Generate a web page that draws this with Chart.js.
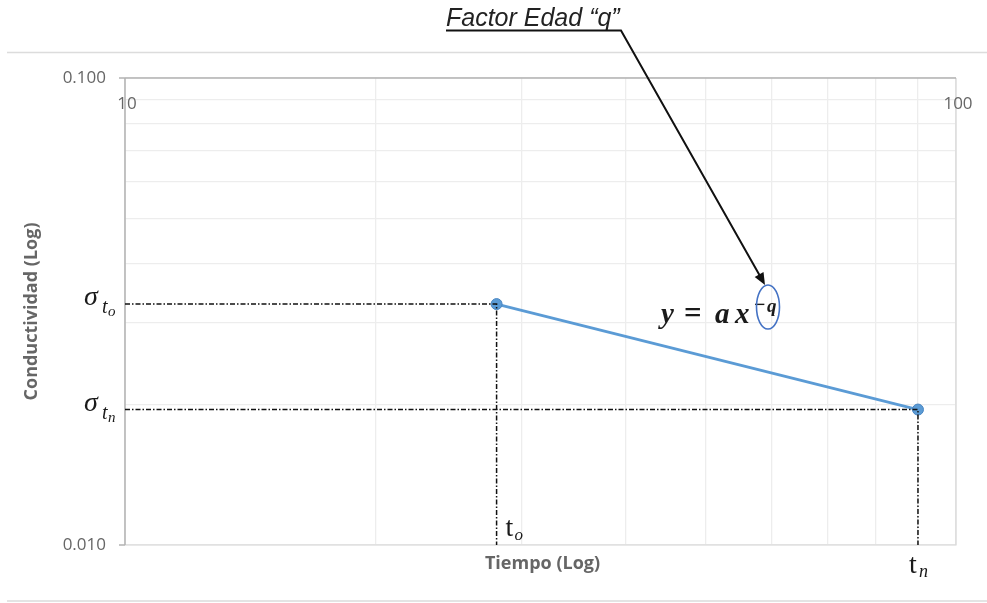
<!DOCTYPE html>
<html>
<head>
<meta charset="utf-8">
<script src="https://cdn.jsdelivr.net/npm/chart.js@4"></script>
<style>
  html, body { margin: 0; padding: 0; background: #fff; }
  #wrap { width: 987px; height: 603px; }
</style>
</head>
<body>
<div id="wrap"><canvas id="chart" width="987" height="603"></canvas></div>
<script>
// datos
const tiempo = [28, 90];
const conductividad = [0.0328, 0.0195];
const xTicks = [10, 100];
const xTickLabels = ['10', '100'];
const yTicks = [0.1, 0.01];
const yTickLabels = ['0.100', '0.010'];
// lineas de division (escala log, como en Excel)
const xGrid = [10, 20, 30, 40, 50, 60, 70, 80, 90, 100];
const yGrid = [0.01, 0.02, 0.03, 0.04, 0.05, 0.06, 0.07, 0.08, 0.09, 0.1];
const xTitle = 'Tiempo (Log)';
const yTitle = 'Conductividad (Log)';

const puntos = tiempo.map((t, i) => ({ x: t, y: conductividad[i] }));

// lineas guia punto-raya hacia los ejes
const guia = (t, c) => [{ x: xTicks[0], y: c }, { x: t, y: c }, { x: t, y: yTicks[1] }];

const guideStyle = {
    borderColor: '#111',
    borderWidth: 1.5,
    borderDash: [5, 2, 1.5, 2],
    pointRadius: 0,
    showLine: true,
    fill: false
};

function texto(ctx, s, x, y, font, color, align, base) {
    ctx.font = font;
    ctx.fillStyle = color;
    ctx.textAlign = align || 'left';
    ctx.textBaseline = base || 'alphabetic';
    ctx.fillText(s, x, y);
}

const decoraciones = {
    id: 'decoraciones',
    beforeDatasetsDraw(chart) {
        const { ctx, chartArea: a } = chart;
        ctx.save();
        // lineas del marco exterior
        ctx.strokeStyle = '#dcdcdc';
        ctx.lineWidth = 1.5;
        ctx.beginPath();
        ctx.moveTo(7, 52.5); ctx.lineTo(987, 52.5);
        ctx.moveTo(7, 601); ctx.lineTo(987, 601);
        ctx.stroke();
        // borde del area de trazado
        ctx.strokeStyle = '#d6d6d6';
        ctx.lineWidth = 1.2;
        ctx.beginPath();
        ctx.moveTo(a.right, a.top); ctx.lineTo(a.right, a.bottom); ctx.lineTo(a.left, a.bottom);
        ctx.stroke();
        ctx.strokeStyle = '#b3b3b3';
        ctx.lineWidth = 1.5;
        ctx.beginPath();
        ctx.moveTo(a.left - 6, a.bottom); ctx.lineTo(a.left, a.bottom);
        ctx.moveTo(a.left, a.bottom); ctx.lineTo(a.left, a.top); ctx.lineTo(a.right, a.top);
        ctx.moveTo(a.left - 6, a.top); ctx.lineTo(a.left, a.top);
        ctx.stroke();
        ctx.restore();
    },
    afterDraw(chart) {
        const { ctx, chartArea: a } = chart;
        const xs = chart.scales.x, ys = chart.scales.y;
        const gris = '#666';
        const sans = '"Open Sans", "Liberation Sans", sans-serif';
        const tickFont = '17px ' + sans;
        ctx.save();

        xTicks.forEach((v, i) => texto(ctx, xTickLabels[i], xs.getPixelForValue(v) + 2, a.top + 26, tickFont, gris, 'center', 'middle'));
        yTicks.forEach((v, i) => texto(ctx, yTickLabels[i], a.left - 19, ys.getPixelForValue(v), tickFont, gris, 'right', 'middle'));

        texto(ctx, xTitle, (a.left + a.right) / 2 + 2, a.bottom + 19, 'bold 18px ' + sans, gris, 'center', 'middle');
        ctx.save();
        ctx.translate(32, (a.top + a.bottom) / 2);
        ctx.rotate(-Math.PI / 2);
        texto(ctx, yTitle, 0, 0, 'bold 18px ' + sans, gris, 'center', 'middle');
        ctx.restore();

        // etiquetas sigma en el eje y
        const serif = '"Liberation Serif", "DejaVu Serif", serif';
        const negro = '#1a1a1a';
        ['o', 'n'].forEach((sub, i) => {
            const py = ys.getPixelForValue(conductividad[i]);
            texto(ctx, 'σ', 84, py + 1, 'italic 28px ' + serif, negro);
            texto(ctx, 't', 102, py + 9, 'italic 20px ' + serif, negro);
            texto(ctx, sub, 108, py + 12, 'italic 15px ' + serif, negro);
        });

        // etiquetas de tiempo
        const p0 = xs.getPixelForValue(tiempo[0]);
        texto(ctx, 't', p0 + 9, a.bottom - 9, '28px ' + serif, negro);
        texto(ctx, 'o', p0 + 18, a.bottom - 5, 'italic 17px ' + serif, negro);
        const p1 = xs.getPixelForValue(tiempo[1]);
        texto(ctx, 't', p1 - 9, a.bottom + 28, '28px ' + serif, negro);
        texto(ctx, 'n', p1 + 1, a.bottom + 32, 'italic 18px ' + serif, negro);

        // ecuacion
        const eq = 'bold italic 29px ' + serif;
        texto(ctx, 'y', 661, 323, eq, negro);
        texto(ctx, '=', 684, 323, 'bold 31px ' + serif, negro);
        texto(ctx, 'a', 715, 323, eq, negro);
        texto(ctx, 'x', 735, 323, eq, negro);
        texto(ctx, '−', 754, 311, 'bold 20px ' + serif, negro);
        texto(ctx, 'q', 767, 312, 'bold italic 19px ' + serif, negro);
        ctx.strokeStyle = '#4472c4';
        ctx.lineWidth = 1.6;
        ctx.beginPath();
        ctx.ellipse(768, 307, 11.5, 22, 0, 0, Math.PI * 2);
        ctx.stroke();

        // titulo y flecha
        texto(ctx, 'Factor Edad “q”', 446, 26, 'italic 25px "Liberation Sans", Arial, sans-serif', '#222');
        ctx.strokeStyle = '#111';
        ctx.lineWidth = 2;
        ctx.beginPath();
        ctx.moveTo(446, 30.5); ctx.lineTo(621, 30.5);
        ctx.lineTo(760, 276);
        ctx.stroke();
        const ang = Math.atan2(276 - 30.5, 760 - 621);
        const tx = 765, ty = 285;
        ctx.fillStyle = '#111';
        ctx.beginPath();
        ctx.moveTo(tx, ty);
        ctx.lineTo(tx - 13 * Math.cos(ang - 0.4), ty - 13 * Math.sin(ang - 0.4));
        ctx.lineTo(tx - 13 * Math.cos(ang + 0.4), ty - 13 * Math.sin(ang + 0.4));
        ctx.closePath();
        ctx.fill();

        ctx.restore();
    }
};

new Chart(document.getElementById('chart'), {
    type: 'scatter',
    data: {
        datasets: [
            Object.assign({ data: guia(tiempo[0], conductividad[0]) }, guideStyle),
            Object.assign({ data: guia(tiempo[1], conductividad[1]) }, guideStyle),
            {
                data: puntos,
                showLine: true,
                borderColor: '#5b9bd5',
                borderWidth: 2.8,
                pointRadius: 5.5,
                pointBackgroundColor: '#5b9bd5',
                pointBorderColor: '#4a86c2',
                pointBorderWidth: 1
            }
        ]
    },
    options: {
        responsive: false,
        animation: false,
        events: [],
        layout: { padding: { left: 125, top: 78, right: 31, bottom: 58 } },
        plugins: { legend: { display: false }, tooltip: { enabled: false } },
        scales: {
            x: {
                type: 'logarithmic',
                min: xTicks[0],
                max: xTicks[1],
                afterBuildTicks: s => { s.ticks = xGrid.map(v => ({ value: v })); },
                ticks: { display: false },
                grid: { color: '#ededed', lineWidth: 1.3, drawTicks: false },
                border: { display: false }
            },
            y: {
                type: 'logarithmic',
                min: yTicks[1],
                max: yTicks[0],
                afterBuildTicks: s => { s.ticks = yGrid.map(v => ({ value: v })); },
                ticks: { display: false },
                grid: { color: '#ededed', lineWidth: 1.3, drawTicks: false },
                border: { display: false }
            }
        }
    },
    plugins: [decoraciones]
});
</script>
</body>
</html>
